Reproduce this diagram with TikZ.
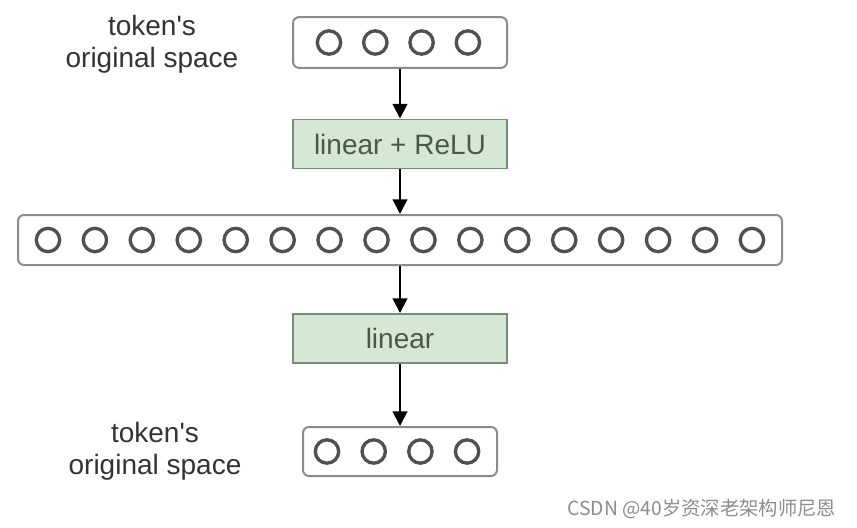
\documentclass[tikz,border=0pt]{standalone}
\usepackage{fontspec}
\setmainfont{Liberation Sans}[Ligatures=TeXOff]
\newfontfamily\cjk{Noto Sans CJK SC}
\usepackage{tikz}
\usetikzlibrary{arrows.meta,positioning}
\definecolor{boxline}{HTML}{8C8C8C}
\definecolor{dotline}{HTML}{505050}
\definecolor{layerfill}{HTML}{D5E8D4}
\definecolor{layerline}{HTML}{7A8A7A}
\definecolor{layertext}{HTML}{4A584A}
\tikzset{
  vecbox/.style={draw=boxline,line width=1.5pt,rounded corners=4.5pt,fill=white,inner sep=0pt,minimum height=38pt},
  layer/.style={draw=layerline,line width=1.2pt,fill=layerfill,inner sep=0pt,minimum width=160.5pt,minimum height=37pt,
    text=layertext,font=\fontsize{21}{24}\selectfont},
  unit/.style={circle,draw=dotline,line width=2.5pt,minimum size=17.5pt,inner sep=0pt},
  arr/.style={line width=1.5pt,-{Triangle[width=11pt,length=11pt]}},
  lbl/.style={align=center,text=black!80,font=\fontsize{21}{24}\selectfont}
}
\begin{document}
\begin{tikzpicture}[x=0.75pt,y=-0.75pt]
\useasboundingbox (0,0) rectangle (857,528);
\node[vecbox,minimum width=160.5pt] (in) at (400,42.5) {};
\node[layer] (relu) at (400,144) {linear + ReLU};
\node[vecbox,minimum width=573pt,minimum height=37.5pt] (hid) at (400,240) {};
\node[layer] (lin) at (400,338.5) {linear};
\node[vecbox,minimum width=145.5pt,minimum height=36.75pt] (out) at (400,451.5) {};
\foreach \i in {0,...,3}{
  \node[unit] (in\i) at (329+46.3*\i,42.5) {};
  \node[unit] (out\i) at (327+46.7*\i,451.5) {};
}
\foreach \i in {0,...,15}
  \node[unit] (hid\i) at (48+46.93*\i,240) {};
\draw[arr] (in) -- (relu);
\draw[arr] (relu) -- (hid);
\draw[arr] (hid) -- (lin);
\draw[arr] (lin) -- (out);
\node[lbl] (inlbl) at (152,44) {token's\\original space};
\node[lbl] (outlbl) at (155,451) {token's\\original space};
\node[text=black!45,font=\cjk\fontsize{14.5}{16}\selectfont,anchor=east] (mark) at (841,509) {CSDN @40岁资深老架构师尼恩};
\end{tikzpicture}
\end{document}
